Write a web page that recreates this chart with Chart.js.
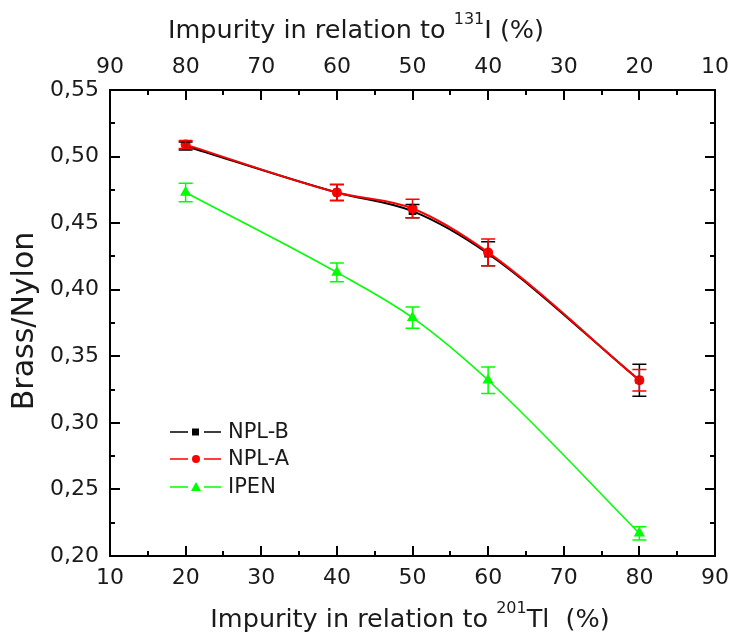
<!DOCTYPE html>
<html>
<head>
<meta charset="utf-8">
<script src="https://cdn.jsdelivr.net/npm/chart.js@4/dist/chart.umd.min.js"></script>
<style>
  html, body { margin: 0; padding: 0; background: #fff; }
  canvas { display: block; }
</style>
</head>
<body>
<canvas id="myChart" width="733" height="632"></canvas>
<script>
// datos
const xValues = [20, 40, 50, 60, 80];
const nplB = [0.508, 0.473, 0.459, 0.427, 0.332];
const nplBErr = [0.003, 0.006, 0.005, 0.009, 0.012];
const nplA = [0.509, 0.473, 0.461, 0.428, 0.332];
const nplAErr = [0.003, 0.006, 0.007, 0.010, 0.008];
const ipen = [0.473, 0.413, 0.379, 0.332, 0.217];
const ipenErr = [0.007, 0.007, 0.008, 0.010, 0.005];
const xTicks = [10, 20, 30, 40, 50, 60, 70, 80, 90];
const yTicks = [0.20, 0.25, 0.30, 0.35, 0.40, 0.45, 0.50, 0.55];

const FONT = '"DejaVu Sans", Verdana, sans-serif';
const TXT = '#1a1a1a';

function pares(vals) {
    return xValues.map((x, i) => ({ x: x, y: vals[i] }));
}

// barras de error
const errorBars = {
    id: 'errorBars',
    afterDatasetsDraw(chart) {
        const ctx = chart.ctx;
        const sx = chart.scales.x, sy = chart.scales.y;
        [0, 1, 2].forEach(i => {
            const ds = chart.data.datasets[i];
            ctx.save();
            ctx.strokeStyle = ds.borderColor;
            ctx.lineWidth = 1.5;
            ds.data.forEach((p, j) => {
                const e = ds.errores[j];
                const px = sx.getPixelForValue(p.x);
                const y1 = sy.getPixelForValue(p.y + e);
                const y2 = sy.getPixelForValue(p.y - e);
                ctx.beginPath();
                ctx.moveTo(px, y1); ctx.lineTo(px, y2);
                ctx.moveTo(px - 7, y1); ctx.lineTo(px + 7, y1);
                ctx.moveTo(px - 7, y2); ctx.lineTo(px + 7, y2);
                ctx.stroke();
            });
            ctx.restore();
        });
    }
};

// marcas hacia adentro
const marcas = {
    id: 'marcas',
    afterDraw(chart) {
        const ctx = chart.ctx;
        const a = chart.chartArea;
        const sx = chart.scales.x, sy = chart.scales.y;
        ctx.save();
        ctx.strokeStyle = '#000';
        ctx.lineWidth = 2;
        ctx.beginPath();
        for (let v = 10; v <= 90; v += 5) {
            const px = Math.round(sx.getPixelForValue(v));
            const l = v % 10 === 0 ? 10 : 5;
            ctx.moveTo(px, a.bottom); ctx.lineTo(px, a.bottom - l);
            ctx.moveTo(px, a.top); ctx.lineTo(px, a.top + l);
        }
        for (let k = 0; k <= 14; k++) {
            const v = 0.20 + k * 0.025;
            const py = Math.round(sy.getPixelForValue(v));
            const l = k % 2 === 0 ? 10 : 5;
            ctx.moveTo(a.left, py); ctx.lineTo(a.left + l, py);
            ctx.moveTo(a.right, py); ctx.lineTo(a.right - l, py);
        }
        ctx.stroke();
        ctx.restore();
    }
};

function textoSup(ctx, partes, cx, base, size) {
    const supSize = Math.round(size * 0.62);
    let total = 0;
    partes.forEach(p => {
        ctx.font = (p.sup ? supSize : size) + 'px ' + FONT;
        p.w = ctx.measureText(p.t).width;
        total += p.w;
    });
    let x = cx - total / 2;
    ctx.textAlign = 'left';
    ctx.textBaseline = 'alphabetic';
    partes.forEach(p => {
        ctx.font = (p.sup ? supSize : size) + 'px ' + FONT;
        ctx.fillText(p.t, x, p.sup ? base - size * 0.55 : base);
        x += p.w;
    });
}

// titulos y leyenda
const titulos = {
    id: 'titulos',
    afterDraw(chart) {
        const ctx = chart.ctx;
        ctx.save();
        ctx.fillStyle = TXT;
        textoSup(ctx, [{ t: 'Impurity in relation to ' }, { t: '131', sup: true }, { t: 'I (%)' }], 356, 38, 25.5);
        textoSup(ctx, [{ t: 'Impurity in relation to ' }, { t: '201', sup: true }, { t: 'Tl  (%)' }], 410, 627, 25.5);

        ctx.save();
        ctx.translate(33, 321);
        ctx.rotate(-Math.PI / 2);
        ctx.font = '30px ' + FONT;
        ctx.textAlign = 'center';
        ctx.textBaseline = 'alphabetic';
        ctx.fillText('Brass/Nylon', 0, 0);
        ctx.restore();

        const filas = [432, 459, 487];
        chart.data.datasets.forEach((ds, i) => {
            const y = filas[i];
            ctx.strokeStyle = ds.borderColor;
            ctx.fillStyle = ds.borderColor;
            ctx.lineWidth = 1.5;
            ctx.beginPath();
            ctx.moveTo(170, y); ctx.lineTo(188, y);
            ctx.moveTo(204, y); ctx.lineTo(221, y);
            ctx.stroke();
            ctx.beginPath();
            if (ds.pointStyle === 'rect') {
                ctx.rect(192, y - 3.5, 7, 7);
            } else if (ds.pointStyle === 'circle') {
                ctx.arc(196, y, 4, 0, Math.PI * 2);
            } else {
                ctx.moveTo(196, y - 5); ctx.lineTo(201, y + 4); ctx.lineTo(191, y + 4); ctx.closePath();
            }
            ctx.fill();
            ctx.fillStyle = TXT;
            ctx.font = '21px ' + FONT;
            ctx.textAlign = 'left';
            ctx.textBaseline = 'middle';
            ctx.fillText(ds.label, 228, y + 1);
        });
        ctx.restore();
    }
};

function ejeX(pos, reverse, alto, pad) {
    return {
        type: 'linear', position: pos, min: 10, max: 90, reverse: reverse,
        afterBuildTicks: s => { s.ticks = xTicks.map(v => ({ value: v })); },
        afterFit: s => { s.height = alto; s.paddingLeft = 0; s.paddingRight = 0; },
        grid: { display: false, drawTicks: false },
        border: { display: true, color: '#000', width: 2 },
        ticks: { autoSkip: false, maxRotation: 0, padding: pad, color: TXT, font: { family: FONT, size: 22 } }
    };
}

function ejeY(pos, ancho, mostrar) {
    return {
        type: 'linear', position: pos, min: 0.20, max: 0.55,
        afterBuildTicks: s => { s.ticks = yTicks.map(v => ({ value: v })); },
        afterFit: s => { s.width = ancho; s.paddingTop = 0; s.paddingBottom = 0; },
        grid: { display: false, drawTicks: false },
        border: { display: true, color: '#000', width: 2 },
        ticks: {
            display: mostrar, autoSkip: false, padding: 11, color: TXT,
            font: { family: FONT, size: 22 },
            callback: v => v.toFixed(2).replace('.', ',')
        }
    };
}

new Chart(document.getElementById('myChart').getContext('2d'), {
    type: 'line',
    data: {
        datasets: [
            { label: 'NPL-B', data: pares(nplB), errores: nplBErr, borderColor: '#000000', backgroundColor: '#000000',
              pointStyle: 'rect', pointRadius: 4, borderWidth: 2, cubicInterpolationMode: 'monotone', order: 3 },
            { label: 'NPL-A', data: pares(nplA), errores: nplAErr, borderColor: '#ff0000', backgroundColor: '#ff0000',
              pointStyle: 'circle', pointRadius: 4, borderWidth: 2, cubicInterpolationMode: 'monotone', order: 2 },
            { label: 'IPEN', data: pares(ipen), errores: ipenErr, borderColor: '#00ff00', backgroundColor: '#00ff00',
              pointStyle: 'triangle', pointRadius: 5, borderWidth: 1.5, cubicInterpolationMode: 'monotone', order: 1 }
        ]
    },
    options: {
        responsive: false,
        animation: false,
        layout: { padding: 0 },
        plugins: { legend: { display: false }, tooltip: { enabled: false } },
        scales: {
            x: ejeX('bottom', false, 76, 9),
            x2: ejeX('top', true, 90, 10),
            y: ejeY('left', 110, true),
            y2: ejeY('right', 18, false)
        }
    },
    plugins: [errorBars, marcas, titulos]
});
</script>
</body>
</html>
